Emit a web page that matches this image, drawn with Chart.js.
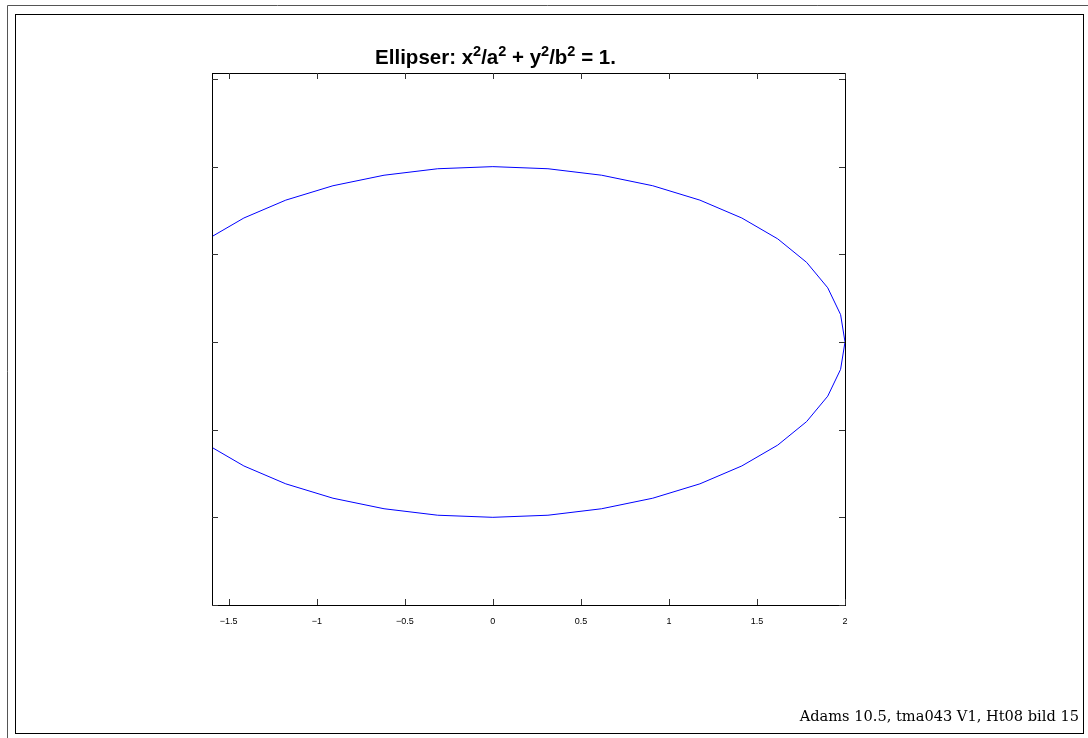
<!DOCTYPE html>
<html>
<head>
<meta charset="utf-8">
<script src="https://cdn.jsdelivr.net/npm/chart.js@4/dist/chart.umd.min.js"></script>
<style>
  html, body { margin: 0; padding: 0; background: #fff; }
  #wrap { width: 1088px; height: 738px; position: relative; }
</style>
</head>
<body>
<div id="wrap"><canvas id="c" width="1088" height="738"></canvas></div>
<script>
// ---- data ----
const ellipseX = [2, 1.975, 1.902, 1.782, 1.618, 1.414, 1.176, 0.908, 0.618, 0.313, 0,
  -0.313, -0.618, -0.908, -1.176, -1.414, -1.618, -1.782, -1.902, -1.975, -2,
  -1.975, -1.902, -1.782, -1.618, -1.414, -1.176, -0.908, -0.618, -0.313, 0,
  0.313, 0.618, 0.908, 1.176, 1.414, 1.618, 1.782, 1.902, 1.975, 2];
const ellipseY = [0, 0.156, 0.309, 0.454, 0.588, 0.707, 0.809, 0.891, 0.951, 0.988, 1,
  0.988, 0.951, 0.891, 0.809, 0.707, 0.588, 0.454, 0.309, 0.156, 0,
  -0.156, -0.309, -0.454, -0.588, -0.707, -0.809, -0.891, -0.951, -0.988, -1,
  -0.988, -0.951, -0.891, -0.809, -0.707, -0.588, -0.454, -0.309, -0.156, 0];
const xTickValues = [-1.5, -1, -0.5, 0, 0.5, 1, 1.5, 2];
const xTickLabels = ['\u22121.5', '\u22121', '\u22120.5', '0', '0.5', '1', '1.5', '2'];
const yTickValues = [-1.5, -1, -0.5, 0, 0.5, 1, 1.5];
const xRange = [-1.595, 2];
const yRange = [-1.5, 1.534];
const titleParts = [['Ellipser: x', false], ['2', true], ['/a', false], ['2', true],
  [' + y', false], ['2', true], ['/b', false], ['2', true], [' = 1.', false]];
const footerText = 'Adams 10.5, tma043 V1, Ht08 bild 15';

const points = ellipseX.map((x, i) => ({ x: x, y: ellipseY[i] }));

const decorPlugin = {
  id: 'decor',
  afterDraw(chart) {
    const ctx = chart.ctx;
    const a = chart.chartArea;
    const xs = chart.scales.x, ys = chart.scales.y;
    ctx.save();
    // page frames
    ctx.lineWidth = 1;
    ctx.strokeStyle = '#555';
    ctx.beginPath();
    ctx.moveTo(7.5, 738); ctx.lineTo(7.5, 5.5); ctx.lineTo(1088, 5.5);
    ctx.stroke();
    ctx.strokeStyle = '#000';
    ctx.strokeRect(15.5, 14.5, 1068, 719);
    // axes box
    ctx.strokeStyle = '#000';
    ctx.strokeRect(Math.round(a.left) + 0.5, Math.round(a.top) + 0.5,
      Math.round(a.right - a.left), Math.round(a.bottom - a.top));
    // inward tick marks on all sides
    ctx.strokeStyle = '#333';
    const tl = 6;
    ctx.beginPath();
    xs.ticks.forEach(t => {
      const px = Math.round(xs.getPixelForValue(t.value)) + 0.5;
      ctx.moveTo(px, a.bottom); ctx.lineTo(px, a.bottom - tl);
      ctx.moveTo(px, a.top); ctx.lineTo(px, a.top + tl);
    });
    ys.ticks.forEach(t => {
      const py = Math.round(ys.getPixelForValue(t.value)) + 0.5;
      ctx.moveTo(a.left, py); ctx.lineTo(a.left + tl, py);
      ctx.moveTo(a.right, py); ctx.lineTo(a.right - tl, py);
    });
    ctx.stroke();
    // title with superscripts
    ctx.fillStyle = '#000';
    ctx.textBaseline = 'alphabetic';
    ctx.textAlign = 'left';
    const mainFont = 'bold 20.5px "Liberation Sans", Arial, sans-serif';
    const supFont = 'bold 14.5px "Liberation Sans", Arial, sans-serif';
    let w = 0;
    titleParts.forEach(p => { ctx.font = p[1] ? supFont : mainFont; w += ctx.measureText(p[0]).width; });
    let x = 495.5 - w / 2;
    const base = 63.5;
    titleParts.forEach(p => {
      ctx.font = p[1] ? supFont : mainFont;
      ctx.fillText(p[0], x, p[1] ? base - 8 : base);
      x += ctx.measureText(p[0]).width;
    });
    // footer
    ctx.font = '14.6px "DejaVu Serif", serif';
    ctx.textAlign = 'right';
    ctx.fillText(footerText, 1079, 721);
    ctx.restore();
  }
};

new Chart(document.getElementById('c'), {
  type: 'scatter',
  data: {
    datasets: [{
      data: points,
      showLine: true,
      borderColor: '#0000ff',
      borderWidth: 1,
      pointRadius: 0,
      pointHoverRadius: 0,
      fill: false,
      tension: 0
    }]
  },
  options: {
    responsive: false,
    animation: false,
    events: [],
    layout: { padding: { left: 0, right: 243, top: 73, bottom: 0 } },
    plugins: { legend: { display: false }, tooltip: { enabled: false }, title: { display: false } },
    scales: {
      x: {
        type: 'linear', min: xRange[0], max: xRange[1],
        afterBuildTicks: s => { s.ticks = xTickValues.map(v => ({ value: v })); },
        afterFit: s => { s.height = 133; },
        grid: { display: false, drawTicks: false },
        border: { display: false },
        ticks: {
          autoSkip: false, maxRotation: 0, minRotation: 0, padding: 11,
          color: '#000',
          font: { family: '"Liberation Sans", Arial, sans-serif', size: 9 },
          callback: v => xTickLabels[xTickValues.indexOf(v)]
        }
      },
      y: {
        type: 'linear', min: yRange[0], max: yRange[1],
        afterBuildTicks: s => { s.ticks = yTickValues.map(v => ({ value: v })); },
        afterFit: s => { s.width = 212; },
        grid: { display: false, drawTicks: false },
        border: { display: false },
        ticks: { display: false }
      }
    }
  },
  plugins: [decorPlugin]
});
</script>
</body>
</html>
